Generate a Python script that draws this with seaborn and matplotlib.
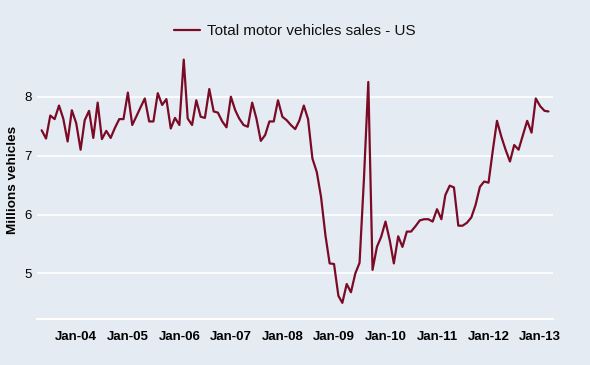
import numpy as np
import pandas as pd
import matplotlib
matplotlib.use("Agg")
import matplotlib.pyplot as plt
import matplotlib.dates as mdates
import seaborn as sns

# ---- data (monthly, May 2003 .. Mar 2013), millions of vehicles ----
start_month = "2003-05-01"
sales = [
    7.43, 7.29, 7.68, 7.62, 7.85, 7.63, 7.24, 7.77,              # May-Dec 2003
    7.55, 7.10, 7.60, 7.76, 7.30, 7.90, 7.28, 7.42, 7.30, 7.47, 7.62, 7.62,  # 2004
    8.07, 7.52, 7.66, 7.82, 7.97, 7.58, 7.58, 8.06, 7.86, 7.96, 7.46, 7.64,  # 2005
    7.52, 8.63, 7.63, 7.52, 7.94, 7.66, 7.64, 8.13, 7.75, 7.73, 7.58, 7.48,  # 2006
    8.00, 7.77, 7.63, 7.52, 7.49, 7.90, 7.63, 7.25, 7.35, 7.58, 7.58, 7.94,  # 2007
    7.66, 7.60, 7.52, 7.45, 7.60, 7.85, 7.62, 6.95, 6.72, 6.30, 5.65, 5.17,  # 2008
    5.16, 4.62, 4.50, 4.82, 4.68, 5.00, 5.18, 6.60, 8.25, 5.06, 5.45, 5.62,  # 2009
    5.88, 5.55, 5.17, 5.63, 5.45, 5.71, 5.71, 5.80, 5.90, 5.92, 5.92, 5.88,  # 2010
    6.09, 5.92, 6.33, 6.49, 6.46, 5.81, 5.81, 5.86, 5.95, 6.16, 6.47, 6.56,  # 2011
    6.54, 7.10, 7.59, 7.32, 7.10, 6.90, 7.18, 7.10, 7.35, 7.59, 7.39, 7.97,  # 2012
    7.84, 7.76, 7.75,                                            # Jan-Mar 2013
]
series_name = "Total motor vehicles sales - US"
y_label = "Millions vehicles"
y_ticks = [5, 6, 7, 8]
x_tick_years = list(range(2004, 2014))

dates = pd.date_range(start_month, periods=len(sales), freq="MS")
df = pd.DataFrame({"date": dates, "value": sales, "series": series_name})

# ---- styling ----
BG = "#E5EBF2"
LINE = "#7A0A26"
sns.set_theme(style="white")
plt.rcParams["font.family"] = ["Liberation Sans", "DejaVu Sans"]

fig = plt.figure(figsize=(5.9, 3.65), dpi=100, facecolor=BG)
ax = fig.add_axes([37 / 590, 1 - 319 / 365, (553 - 37) / 590, (319 - 45) / 365])
ax.set_facecolor(BG)

sns.lineplot(data=df, x="date", y="value", hue="series", palette=[LINE],
             linewidth=1.6, ax=ax)

ax.set_xlim(pd.Timestamp("2003-03-29"), pd.Timestamp("2013-04-02"))
ax.set_ylim(4.226, 8.878)

ax.set_yticks(y_ticks)
ax.set_yticklabels([str(t) for t in y_ticks], fontsize=9.5, color="black")
ax.grid(axis="y", color="white", linewidth=1.2)
ax.grid(axis="x", visible=False)
ax.set_axisbelow(True)

xt = [pd.Timestamp(f"{y}-01-01") for y in x_tick_years]
ax.set_xticks(xt)
ax.set_xticklabels([f"Jan-{str(y)[2:]}" for y in x_tick_years],
                   fontsize=9.5, fontweight="bold", color="black")

ax.tick_params(axis="y", length=0, pad=4)
ax.tick_params(axis="x", length=3, width=1, color="white", direction="out", pad=6)

for s in ["top", "right", "left"]:
    ax.spines[s].set_visible(False)
ax.spines["bottom"].set_color("white")
ax.spines["bottom"].set_linewidth(1.5)

ax.set_xlabel("")
ax.set_ylabel("")
fig.text(13 / 590, 1 - 180 / 365, y_label, rotation=90, ha="center", va="center",
         fontsize=9.7, fontweight="bold", color="black")

leg = ax.legend(loc="center", bbox_to_anchor=(295 / 590, 1 - 31 / 365),
                bbox_transform=fig.transFigure, frameon=False, fontsize=11,
                handlelength=1.7, handletextpad=0.5)
for t in leg.get_texts():
    t.set_color("#111111")

fig.savefig("out.png", dpi=100, facecolor=BG)
